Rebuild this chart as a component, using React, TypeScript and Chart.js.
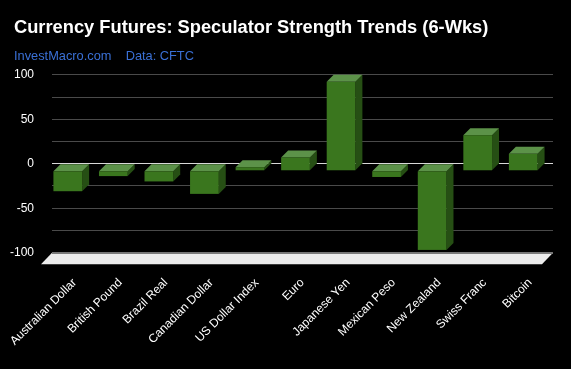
import React, { useEffect, useRef } from "react";
import { Chart, registerables } from "chart.js";

Chart.register(...registerables);

const categories = [
  "Australian Dollar",
  "British Pound",
  "Brazil Real",
  "Canadian Dollar",
  "US Dollar Index",
  "Euro",
  "Japanese Yen",
  "Mexican Peso",
  "New Zealand",
  "Swiss Franc",
  "Bitcoin",
];
const strengthValues = [-23, -6, -12, -26, 4, 15, 100, -7, -89, 40, 19];
const yLabelledTicks = [100, 50, 0, -50, -100];

const TITLE = "Currency Futures: Speculator Strength Trends (6-Wks)";
const SUBTITLE = "InvestMacro.com    Data: CFTC";

const BAR_DEPTH = 7;
const FLOOR_DEPTH = 11;
const FRONT = "#3a761e";
const TOP = "#5c9249";
const SIDE = "#264f14";

const floorPlugin = {
  id: "floor3d",
  afterLayout(chart: any) {
    // let the y-axis labels (e.g. "-100") extend left of the axis box without clipping
    const y = chart.scales.y;
    if (y) y.left = 0;
  },
  afterDraw(chart: any) {
    const { ctx, chartArea } = chart;
    const { left, right, bottom } = chartArea;
    ctx.save();
    ctx.beginPath();
    ctx.moveTo(left, bottom);
    ctx.lineTo(right, bottom);
    ctx.lineTo(right - FLOOR_DEPTH, bottom + FLOOR_DEPTH + 0.5);
    ctx.lineTo(left - FLOOR_DEPTH, bottom + FLOOR_DEPTH + 0.5);
    ctx.closePath();
    ctx.fillStyle = "#ececec";
    ctx.fill();
    ctx.beginPath();
    ctx.moveTo(left, bottom + 0.5);
    ctx.lineTo(right, bottom + 0.5);
    ctx.strokeStyle = "#7a7a7a";
    ctx.lineWidth = 1.5;
    ctx.stroke();
    ctx.restore();
  },
};

const bar3dPlugin = {
  id: "bar3d",
  afterDatasetsDraw(chart: any) {
    const ctx = chart.ctx;
    const meta = chart.getDatasetMeta(0);
    const d = BAR_DEPTH;
    ctx.save();
    meta.data.forEach((el: any) => {
      const { x, y, base, width } = el.getProps(["x", "y", "base", "width"], true);
      const l = x - width / 2;
      const r = x + width / 2;
      const t = Math.min(y, base);
      const b = Math.max(y, base);
      ctx.beginPath();
      ctx.moveTo(r - d, t + d);
      ctx.lineTo(r, t);
      ctx.lineTo(r, b);
      ctx.lineTo(r - d, b + d);
      ctx.closePath();
      ctx.fillStyle = SIDE;
      ctx.fill();
      ctx.beginPath();
      ctx.moveTo(l - d, t + d);
      ctx.lineTo(l, t);
      ctx.lineTo(r, t);
      ctx.lineTo(r - d, t + d);
      ctx.closePath();
      ctx.fillStyle = TOP;
      ctx.fill();
      ctx.fillStyle = FRONT;
      ctx.fillRect(l - d, t + d, r - l, b - t);
    });
    ctx.restore();
  },
};

export default function App() {
  const canvasRef = useRef<HTMLCanvasElement | null>(null);

  useEffect(() => {
    document.body.style.margin = "0";
    document.body.style.background = "#000";
    Chart.defaults.font.family = "'Liberation Sans', Arial, sans-serif";
    const canvas = canvasRef.current;
    if (!canvas) return;
    const chart = new Chart(canvas, {
      type: "bar",
      data: {
        labels: categories,
        datasets: [
          {
            data: strengthValues,
            backgroundColor: "rgba(0,0,0,0)",
            borderWidth: 0,
            barPercentage: 0.63,
            categoryPercentage: 1,
          },
        ],
      },
      options: {
        animation: false,
        responsive: true,
        maintainAspectRatio: false,
        layout: { padding: { left: 14, right: 18, top: 0, bottom: 0 } },
        plugins: {
          legend: { display: false },
          tooltip: { enabled: false },
          title: {
            display: true,
            text: TITLE,
            align: "start",
            color: "#ffffff",
            font: { size: 18.3, weight: "bold" },
            padding: { top: 17.2, bottom: 0 },
          },
          subtitle: {
            display: true,
            text: SUBTITLE,
            align: "start",
            color: "#3a70d6",
            font: { size: 12.8 },
            padding: { top: 9.6, bottom: 10.7 },
          },
        },
        scales: {
          x: {
            grid: { display: false, drawTicks: false },
            border: { display: false },
            ticks: {
              color: "#ffffff",
              font: { size: 12 },
              maxRotation: 45,
              minRotation: 45,
              padding: 23,
              autoSkip: false,
            },
            afterFit(scale: any) {
              scale.height = 116.3;
              scale.paddingLeft = 0;
              scale.paddingRight = 0;
            },
          },
          y: {
            min: -100,
            max: 100,
            grid: {
              drawTicks: false,
              color: (c: any) => (c.tick && c.tick.value === 0 ? "#d8d8d8" : "#4a4a4a"),
              lineWidth: 1,
            },
            border: { display: false },
            ticks: {
              stepSize: 25,
              color: "#ffffff",
              font: { size: 12 },
              padding: 18,
              callback: (v: any) => (yLabelledTicks.includes(Number(v)) ? String(v) : ""),
            },
            afterFit(scale: any) {
              scale.width = 38;
            },
          },
        },
      },
      plugins: [floorPlugin, bar3dPlugin],
    });
    return () => chart.destroy();
  }, []);

  return (
    <div style={{ position: "relative", width: 571, height: 369, background: "#000" }}>
      <canvas ref={canvasRef} />
    </div>
  );
}
